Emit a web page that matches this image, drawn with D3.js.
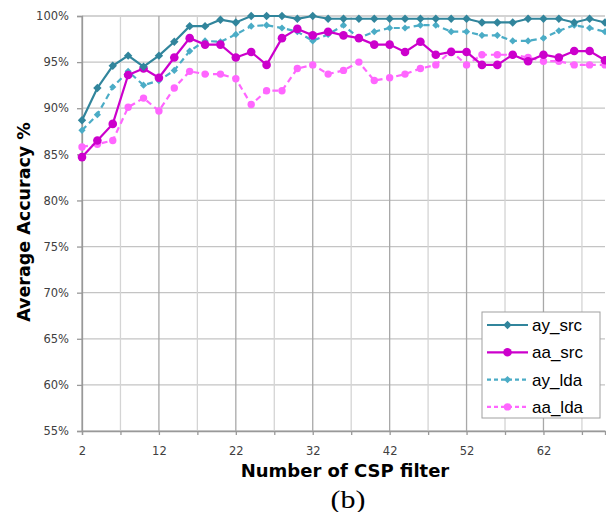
<!DOCTYPE html>
<html>
<head>
<meta charset="utf-8">
<script src="https://cdn.jsdelivr.net/npm/d3@7"></script>
<style>
  body { margin: 0; background: #fff; }
  svg { display: block; }
</style>
</head>
<body>
<div id="chart"></div>
<script>
const width = 606;
const height = 512;
const margin = { top: 16, right: 1, bottom: 81, left: 82 };

// number of CSP filters
const filters = [2, 4, 6, 8, 10, 12, 14, 16, 18, 20, 22, 24, 26, 28, 30, 32, 34, 36,
  38, 40, 42, 44, 46, 48, 50, 52, 54, 56, 58, 60, 62, 64, 66, 68, 70];

const aySrc = [88.7, 92.2, 94.6, 95.7, 94.5, 95.7, 97.2, 98.9, 98.9, 99.6, 99.3, 100, 100, 100,
  99.7, 100, 99.7, 99.7, 99.7, 99.7, 99.7, 99.7, 99.7, 99.7, 99.7, 99.7, 99.3, 99.3, 99.3,
  99.7, 99.7, 99.7, 99.3, 99.7, 99.3];
const aaSrc = [84.7, 86.5, 88.3, 93.6, 94.3, 93.3, 95.5, 97.6, 96.9, 96.9, 95.5, 96.1, 94.7, 97.6,
  98.6, 97.9, 98.3, 97.9, 97.6, 96.9, 96.9, 96.1, 97.2, 95.8, 96.1, 96.1, 94.7, 94.7, 95.8,
  95.1, 95.8, 95.5, 96.2, 96.2, 95.2];
const ayLda = [87.6, 89.3, 92.3, 94.0, 92.5, 93.0, 94.1, 96.2, 97.3, 97.2, 98.0, 98.9, 99.0, 98.7,
  98.3, 97.3, 98.0, 99.0, 97.6, 98.3, 98.7, 98.7, 99.0, 99.0, 98.3, 98.3, 97.9, 97.9, 97.3,
  97.3, 97.6, 98.4, 99.0, 98.7, 98.3];
const aaLda = [85.8, 86.1, 86.5, 90.1, 91.1, 89.7, 92.2, 94.0, 93.7, 93.7, 93.2, 90.4, 91.9, 91.9,
  94.3, 94.7, 93.7, 94.1, 95.0, 93.0, 93.3, 93.7, 94.3, 94.7, 96.2, 94.7, 95.8, 95.8, 95.8,
  95.5, 95.1, 95.1, 94.7, 94.7, 94.7];

const yTicks = [55, 60, 65, 70, 75, 80, 85, 90, 95, 100];
const xLabels = [2, 12, 22, 32, 42, 52, 62];
const xGrid = [2, 7, 12, 17, 22, 27, 32, 37, 42, 47, 52, 57, 62, 67];

const series = [
  { name: 'ay_src', values: aySrc, color: '#31859c', dash: null, marker: 'diamond', size: 4.2 },
  { name: 'aa_src', values: aaSrc, color: '#cc00cc', dash: null, marker: 'circle', size: 4.3 },
  { name: 'ay_lda', values: ayLda, color: '#4bacc6', dash: '6,4', marker: 'diamond', size: 3.6 },
  { name: 'aa_lda', values: aaLda, color: '#ff66ff', dash: '6,4', marker: 'circle', size: 3.7 }
];

const sans = '"DejaVu Sans", Verdana, sans-serif';

const svg = d3.select('#chart')
  .append('svg')
  .attr('width', width)
  .attr('height', height)
  .attr('viewBox', [0, 0, width, height]);

const x = d3.scaleLinear()
  .domain([2, 70])
  .range([margin.left, width - margin.right]);

const y = d3.scaleLinear()
  .domain([55, 100])
  .range([height - margin.bottom, margin.top]);

// grid
svg.append('g')
  .selectAll('line')
  .data(yTicks)
  .join('line')
    .attr('x1', margin.left)
    .attr('x2', width - margin.right)
    .attr('y1', d => y(d))
    .attr('y2', d => y(d))
    .attr('stroke', '#c4c4c4')
    .attr('stroke-width', 1.3);

svg.append('g')
  .selectAll('line')
  .data(xGrid)
  .join('line')
    .attr('x1', d => x(d))
    .attr('x2', d => x(d))
    .attr('y1', margin.top)
    .attr('y2', height - margin.bottom)
    .attr('stroke', d => xLabels.includes(d) ? '#a8a8a8' : '#d4d4d4')
    .attr('stroke-width', 1.3);

// axes
const yAxis = svg.append('g')
  .attr('transform', `translate(${margin.left},0)`)
  .call(d3.axisLeft(y).tickValues(yTicks).tickFormat(d => d + '%').tickSize(5).tickPadding(8));

const xAxis = svg.append('g')
  .attr('transform', `translate(0,${height - margin.bottom})`)
  .call(d3.axisBottom(x).tickValues(xGrid).tickFormat(d => xLabels.includes(d) ? d : '')
    .tickSize(4).tickPadding(12));

[yAxis, xAxis].forEach(g => {
  g.select('.domain').attr('stroke', '#999').attr('stroke-width', 1.3);
  g.selectAll('.tick line').attr('stroke', '#999').attr('stroke-width', 1.3);
  g.selectAll('.tick text')
    .attr('fill', '#404040')
    .attr('font-family', sans)
    .attr('font-size', '11.5px');
});

// lines and markers
const line = d3.line()
  .x((d, i) => x(filters[i]))
  .y(d => y(d));

const diamond = s => `M0,${-s}L${s},0L0,${s}L${-s},0Z`;

function drawMarker(sel, s) {
  if (s.marker === 'circle') {
    sel.append('circle').attr('r', s.size).attr('fill', s.color);
  } else {
    sel.append('path').attr('d', diamond(s.size)).attr('fill', s.color);
  }
}

series.slice().reverse().forEach(s => {
  const g = svg.append('g');
  g.append('path')
    .datum(s.values)
    .attr('d', line)
    .attr('fill', 'none')
    .attr('stroke', s.color)
    .attr('stroke-width', 2.2)
    .attr('stroke-dasharray', s.dash);
  g.selectAll('g')
    .data(s.values)
    .join('g')
      .attr('transform', (d, i) => `translate(${x(filters[i])},${y(d)})`)
      .each(function () { drawMarker(d3.select(this), s); });
});

// legend
const legend = svg.append('g').attr('transform', 'translate(482,312)');
legend.append('rect')
  .attr('width', 118)
  .attr('height', 106)
  .attr('fill', '#fff')
  .attr('stroke', '#a0a0a0');

series.forEach((s, i) => {
  const row = legend.append('g').attr('transform', `translate(0,${13 + i * 27.3})`);
  row.append('line')
    .attr('x1', 5).attr('x2', 46)
    .attr('stroke', s.color)
    .attr('stroke-width', 2.2)
    .attr('stroke-dasharray', s.dash ? '4,3' : null);
  const m = row.append('g').attr('transform', 'translate(25.5,0)');
  drawMarker(m, s);
  row.append('text')
    .attr('x', 50)
    .attr('y', 6)
    .attr('font-family', '"Liberation Sans", Arial, sans-serif')
    .attr('font-size', '17px')
    .attr('fill', '#000')
    .text(s.name);
});

// titles
svg.append('text')
  .attr('transform', `translate(29.5,222) rotate(-90)`)
  .attr('text-anchor', 'middle')
  .attr('font-family', sans)
  .attr('font-weight', 'bold')
  .attr('font-size', '17.5px')
  .text('Average Accuracy %');

svg.append('text')
  .attr('x', 345)
  .attr('y', 477)
  .attr('text-anchor', 'middle')
  .attr('font-family', sans)
  .attr('font-weight', 'bold')
  .attr('font-size', '18px')
  .text('Number of CSP filter');

svg.append('text')
  .attr('transform', 'translate(348,508) scale(1.2,1)')
  .attr('text-anchor', 'middle')
  .attr('font-family', '"Liberation Serif", "Times New Roman", serif')
  .attr('font-size', '25px')
  .text('(b)');
</script>
</body>
</html>
